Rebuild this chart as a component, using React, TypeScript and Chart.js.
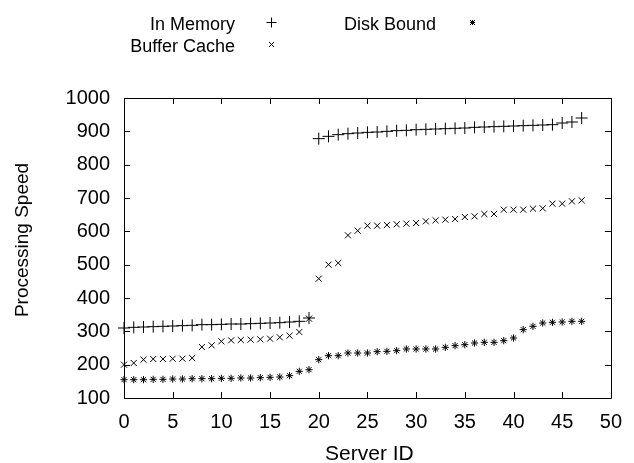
import React, { useEffect, useRef } from 'react';
import { Chart, registerables } from 'chart.js';

Chart.register(...registerables);

const serverIds = [
  0, 1, 2, 3, 4, 5, 6, 7, 8, 9, 10, 11, 12, 13, 14, 15, 16, 17, 18, 19,
  20, 21, 22, 23, 24, 25, 26, 27, 28, 29, 30, 31, 32, 33, 34, 35, 36, 37, 38, 39,
  40, 41, 42, 43, 44, 45, 46, 47,
];

const inMemory = [
  310, 312, 313, 314, 315, 316, 317, 318, 320, 320, 321, 322, 322, 323, 324, 325, 326, 328, 330, 340,
  878, 885, 890, 893, 895, 897, 898, 900, 902, 903, 905, 906, 907, 908, 909, 910, 912, 913, 914, 915,
  916, 917, 918, 919, 920, 925, 928, 940,
];

const bufferCache = [
  200, 205, 215, 217, 217, 218, 218, 220, 253, 258, 270, 273, 274, 275, 276, 278, 282, 287, 298, 338,
  458, 500, 505, 588, 602, 617, 617, 619, 621, 623, 625, 630, 633, 635, 637, 643, 645, 652, 652, 665,
  665, 665, 668, 669, 683, 683, 690, 693,
];

const diskBound = [
  155, 155, 155, 156, 156, 157, 157, 158, 158, 158, 159, 159, 160, 160, 161, 162, 163, 167, 180, 185,
  215, 227, 227, 235, 235, 235, 239, 240, 242, 247, 247, 247, 247, 252, 257, 260, 265, 267, 267, 272,
  280, 305, 315, 325, 327, 328, 330, 330,
];

const seriesNames = ['In Memory', 'Buffer Cache', 'Disk Bound'];
const xTitle = 'Server ID';
const yTitle = 'Processing Speed';

const FONT = "'Liberation Sans', Arial, Helvetica, sans-serif";
const W = 634;
const H = 463;
const LEFT = 124;
const RIGHT = 619;
const TOP = 98;
const BOTTOM = 398;

function drawMarker(ctx: CanvasRenderingContext2D, kind: string, x: number, y: number, r: number) {
  ctx.save();
  ctx.strokeStyle = '#000';
  ctx.lineWidth = 1;
  ctx.beginPath();
  if (kind === 'plus' || kind === 'star') {
    ctx.moveTo(x - r, y);
    ctx.lineTo(x + r, y);
    ctx.moveTo(x, y - r);
    ctx.lineTo(x, y + r);
  }
  if (kind === 'x' || kind === 'star') {
    ctx.moveTo(x - r, y - r);
    ctx.lineTo(x + r, y + r);
    ctx.moveTo(x - r, y + r);
    ctx.lineTo(x + r, y - r);
  }
  ctx.stroke();
  ctx.restore();
}

const decorPlugin = {
  id: 'decor',
  afterDraw(chart: any) {
    const ctx: CanvasRenderingContext2D = chart.ctx;
    const { left, right, top, bottom } = chart.chartArea;
    const xs = chart.scales.x;
    const ys = chart.scales.y;
    ctx.save();
    ctx.strokeStyle = '#000';
    ctx.lineWidth = 1;
    ctx.beginPath();
    ctx.rect(Math.round(left) + 0.5, Math.round(top) + 0.5, Math.round(right - left), Math.round(bottom - top));
    ctx.stroke();
    const tl = 6;
    ctx.beginPath();
    xs.ticks.forEach((t: any) => {
      const px = Math.round(xs.getPixelForValue(t.value)) + 0.5;
      ctx.moveTo(px, bottom);
      ctx.lineTo(px, bottom - tl);
      ctx.moveTo(px, top);
      ctx.lineTo(px, top + tl);
    });
    ys.ticks.forEach((t: any) => {
      const py = Math.round(ys.getPixelForValue(t.value)) + 0.5;
      ctx.moveTo(left, py);
      ctx.lineTo(left + tl, py);
      ctx.moveTo(right, py);
      ctx.lineTo(right - tl, py);
    });
    ctx.stroke();

    // axis titles
    ctx.fillStyle = '#000';
    ctx.textAlign = 'center';
    ctx.textBaseline = 'alphabetic';
    ctx.font = `21px ${FONT}`;
    ctx.fillText(xTitle, (left + right) / 2 + 2, 460);
    ctx.save();
    ctx.font = `19px ${FONT}`;
    ctx.translate(28, 240);
    ctx.rotate(-Math.PI / 2);
    ctx.fillText(yTitle, 0, 0);
    ctx.restore();

    // legend
    ctx.font = `18px ${FONT}`;
    ctx.textAlign = 'right';
    ctx.fillText(seriesNames[0], 235, 30);
    ctx.fillText(seriesNames[1], 235, 52);
    ctx.fillText(seriesNames[2], 436, 30);
    drawMarker(ctx, 'plus', 271.5, 22.5, 5);
    drawMarker(ctx, 'x', 271.5, 44.5, 2.5);
    drawMarker(ctx, 'star', 472.5, 22.5, 2.5);
    ctx.restore();
  },
};

export default function App() {
  const ref = useRef<HTMLCanvasElement | null>(null);
  useEffect(() => {
    if (!ref.current) return;
    const mk = (vals: number[]) => serverIds.map((x, i) => ({ x, y: vals[i] }));
    const chart = new Chart(ref.current, {
      type: 'scatter',
      data: {
        datasets: [
          {
            label: seriesNames[0],
            data: mk(inMemory),
            pointStyle: 'cross',
            pointRadius: 6,
            borderColor: '#000',
            backgroundColor: '#000',
            pointBorderWidth: 1,
            clip: false,
          },
          {
            label: seriesNames[1],
            data: mk(bufferCache),
            pointStyle: 'crossRot',
            pointRadius: 4.3,
            borderColor: '#000',
            backgroundColor: '#000',
            pointBorderWidth: 1,
            clip: false,
          },
          {
            label: seriesNames[2],
            data: mk(diskBound),
            pointStyle: 'star',
            pointRadius: 3.6,
            borderColor: '#000',
            backgroundColor: '#000',
            pointBorderWidth: 1,
            clip: false,
          },
        ],
      } as any,
      options: {
        animation: false,
        responsive: false,
        maintainAspectRatio: false,
        layout: { padding: { top: TOP, right: W - RIGHT, left: 0, bottom: 0 } },
        plugins: { legend: { display: false }, tooltip: { enabled: false } },
        scales: {
          x: {
            type: 'linear',
            min: 0,
            max: 50,
            ticks: {
              stepSize: 5,
              color: '#000',
              font: { family: FONT, size: 20 },
              padding: 12,
              maxRotation: 0,
              callback: (v: any) => String(v),
            },
            grid: { display: false, drawTicks: false },
            border: { display: false },
            afterFit: (s: any) => {
              s.height = H - BOTTOM;
            },
          },
          y: {
            type: 'linear',
            min: 100,
            max: 1000,
            ticks: {
              stepSize: 100,
              color: '#000',
              font: { family: FONT, size: 20 },
              padding: 14,
              callback: (v: any) => String(v),
            },
            grid: { display: false, drawTicks: false },
            border: { display: false },
            afterFit: (s: any) => {
              s.width = LEFT;
            },
          },
        },
      } as any,
      plugins: [decorPlugin],
    });
    return () => chart.destroy();
  }, []);
  return (
    <div style={{ position: 'absolute', left: 0, top: 0, width: W, height: H, background: '#fff' }}>
      <canvas ref={ref} width={W} height={H} style={{ display: 'block' }} />
    </div>
  );
}
